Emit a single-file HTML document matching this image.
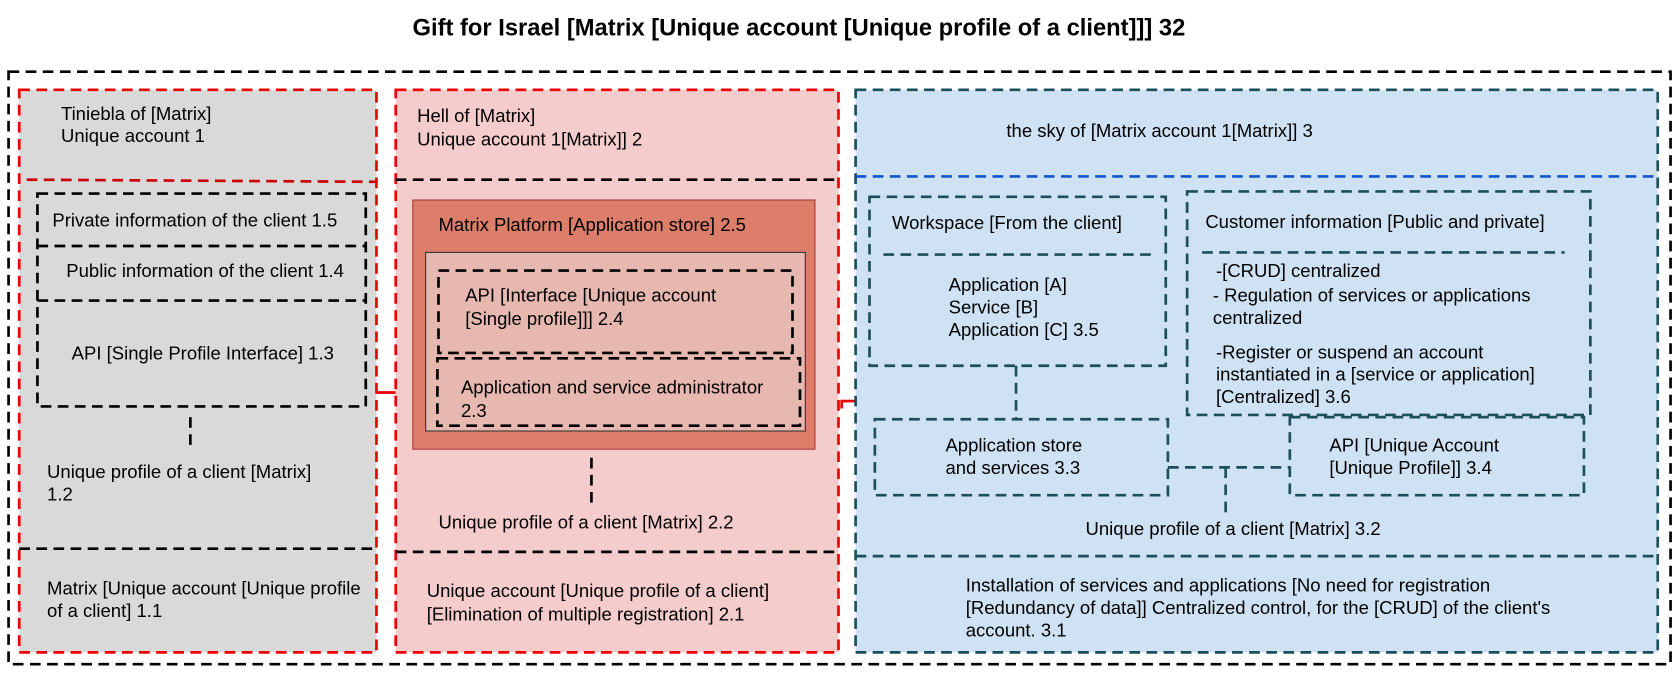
<!DOCTYPE html>
<html><head><style>
html,body{margin:0;padding:0;background:#fff;}
svg{display:block;}
text{font-family:"Liberation Sans",Arial,sans-serif;font-size:17.3px;fill:#000;}
</style></head><body>
<svg width="1677" height="677" viewBox="0 0 1677 677" xmlns="http://www.w3.org/2000/svg">
<g transform="scale(1.0695)">
<text x="747" y="33" text-anchor="middle" style="font-size:22.2px;font-weight:bold">Gift for Israel [Matrix [Unique account [Unique profile of a client]]] 32</text>
<rect x="8" y="67" width="1554" height="554" fill="none" stroke="#000" stroke-width="2.5" stroke-dasharray="10,6"/>

<!-- gray panel -->
<rect x="18" y="84" width="334" height="526" fill="#d9d9d9" stroke="#e00" stroke-width="2.5" stroke-dasharray="10,6"/>
<line x1="25" y1="168" x2="352" y2="170" stroke="#c00" stroke-width="2.5" stroke-dasharray="10,6"/>
<text x="57" y="112">Tiniebla of [Matrix]</text>
<text x="57" y="133">Unique account 1</text>
<rect x="35" y="181" width="307" height="199" fill="none" stroke="#000" stroke-width="2.5" stroke-dasharray="10,6"/>
<line x1="35" y1="230" x2="342" y2="230" stroke="#000" stroke-width="2.5" stroke-dasharray="10,6"/>
<line x1="35" y1="281" x2="342" y2="281" stroke="#000" stroke-width="2.5" stroke-dasharray="10,6"/>
<text x="49" y="212">Private information of the client 1.5</text>
<text x="62" y="259">Public information of the client 1.4</text>
<text x="67" y="336">API [Single Profile Interface] 1.3</text>
<line x1="178" y1="390" x2="178" y2="422" stroke="#000" stroke-width="2.5" stroke-dasharray="10,6"/>
<text x="44" y="447">Unique profile of a client [Matrix]</text>
<text x="44" y="468">1.2</text>
<line x1="18" y1="513" x2="352" y2="513" stroke="#000" stroke-width="2.5" stroke-dasharray="10,6"/>
<text x="44" y="556">Matrix [Unique account [Unique profile</text>
<text x="44" y="577">of a client] 1.1</text>
<line x1="352" y1="367" x2="370" y2="367" stroke="#e00" stroke-width="2.5"/>

<!-- pink panel -->
<rect x="370" y="84" width="414" height="526" fill="#f4cccc" stroke="#e00" stroke-width="2.5" stroke-dasharray="10,6"/>
<line x1="370" y1="168" x2="784" y2="168" stroke="#000" stroke-width="2.5" stroke-dasharray="10,6"/>
<text x="390" y="114">Hell of [Matrix]</text>
<text x="390" y="136">Unique account 1[Matrix]] 2</text>
<rect x="386" y="187" width="376" height="233" fill="#dd7e6b" stroke="#a33" stroke-width="1"/>
<text x="410" y="216">Matrix Platform [Application store] 2.5</text>
<rect x="398" y="236" width="355" height="167" fill="#e6b8af" stroke="#333" stroke-width="1"/>
<rect x="410" y="253" width="331" height="77" fill="none" stroke="#000" stroke-width="2.5" stroke-dasharray="10,6"/>
<text x="435" y="282">API [Interface [Unique account</text>
<text x="435" y="304">[Single profile]]] 2.4</text>
<rect x="409" y="335" width="339" height="63" fill="none" stroke="#000" stroke-width="2.5" stroke-dasharray="10,6"/>
<text x="431" y="368">Application and service administrator</text>
<text x="431" y="390">2.3</text>
<line x1="553" y1="428" x2="553" y2="472" stroke="#000" stroke-width="2.5" stroke-dasharray="10,6"/>
<text x="410" y="494">Unique profile of a client [Matrix] 2.2</text>
<line x1="370" y1="516" x2="784" y2="516" stroke="#000" stroke-width="2.5" stroke-dasharray="10,6"/>
<text x="399" y="558">Unique account [Unique profile of a client]</text>
<text x="399" y="580">[Elimination of multiple registration] 2.1</text>
<polyline points="787,382 787,375 800,375" fill="none" stroke="#e00" stroke-width="2.5"/>

<!-- blue panel -->
<rect x="800" y="84" width="750" height="526" fill="#cfe2f3" stroke="#1c4f5c" stroke-width="2.5" stroke-dasharray="10,6"/>
<line x1="800" y1="165" x2="1550" y2="165" stroke="#1155cc" stroke-width="2.5" stroke-dasharray="10,6"/>
<text x="941" y="128">the sky of [Matrix  account 1[Matrix]] 3</text>
<g stroke="#1c4f5c" stroke-width="2.5" stroke-dasharray="10,6" fill="none">
<rect x="813" y="184" width="277" height="158"/>
<line x1="826" y1="238" x2="1076" y2="238"/>
<rect x="1110" y="179" width="377" height="209"/>
<line x1="1124" y1="236" x2="1463" y2="236"/>
<rect x="818" y="392" width="274" height="71"/>
<rect x="1206" y="390" width="275" height="73"/>
<line x1="950" y1="342" x2="950" y2="392"/>
<line x1="1092" y1="437" x2="1206" y2="437"/>
<line x1="1146" y1="437" x2="1146" y2="485"/>
<line x1="800" y1="520" x2="1550" y2="520"/>
</g>
<text x="834" y="214">Workspace [From the client]</text>
<text x="887" y="272">Application [A]</text>
<text x="887" y="293">Service [B]</text>
<text x="887" y="314">Application [C] 3.5</text>
<text x="1127" y="213">Customer information [Public and private]</text>
<text x="1137" y="259">-[CRUD] centralized</text>
<text x="1134" y="282">- Regulation of services or applications</text>
<text x="1134" y="303">centralized</text>
<text x="1137" y="335">-Register or suspend an account</text>
<text x="1137" y="356">instantiated in a [service or application]</text>
<text x="1137" y="377">[Centralized] 3.6</text>
<text x="884" y="422">Application store</text>
<text x="884" y="443">and services 3.3</text>
<text x="1243" y="422">API [Unique Account</text>
<text x="1243" y="443">[Unique Profile]] 3.4</text>
<text x="1015" y="500">Unique profile of a client [Matrix] 3.2</text>
<text x="903" y="553">Installation of services and applications [No need for registration</text>
<text x="903" y="574">[Redundancy of data]] Centralized control, for the [CRUD] of the client's</text>
<text x="903" y="595">account. 3.1</text>
</g>
</svg>
</body></html>
